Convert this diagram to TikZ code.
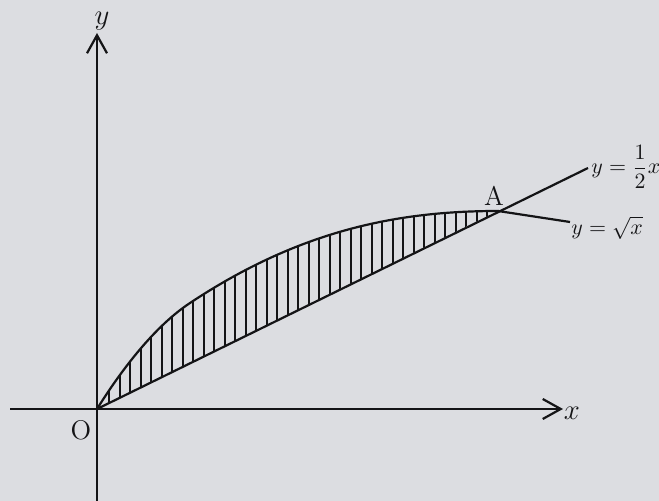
\documentclass[tikz,border=0pt]{standalone}
\usetikzlibrary{arrows.meta}
\definecolor{paper}{RGB}{220,221,225}
\definecolor{ink}{RGB}{20,20,22}
\begin{document}
\begin{tikzpicture}[x=0.5pt,y=-0.5pt,
  axis/.style={ink, line width=1.1pt, -{Straight Barb[length=9pt,width=10pt,line width=1.1pt]}},
  curve/.style={ink, line width=1.1pt},
  hatch/.style={ink, line width=1pt},
  lbl/.style={ink, font=\fontsize{11}{13}\selectfont, inner sep=0pt},
  big/.style={ink, font=\fontsize{13.5}{15}\selectfont, inner sep=0pt}]
\fill[paper] (0,0) rectangle (659,501);
\useasboundingbox (0,0) rectangle (659,501);
% key points
\coordinate (O) at (97,409);
\coordinate (M) at (190,303);
\coordinate (A) at (498,211);
\coordinate (xl) at (10,409);
\coordinate (xr) at (563,409);
\coordinate (yb) at (97,501);
\coordinate (yt) at (97,33);
\coordinate (Lend) at (588,168);
\coordinate (Send) at (570,222);
% axes
\draw[axis] (xl) -- (xr);
\draw[axis] (yb) -- (yt);
% hatching between the curve and the line
\begin{scope}
\clip (O) .. controls (122,369) and (155,326) .. (M) .. controls (300,230) and (398,211) .. (A) -- cycle;
\foreach \i in {0,...,37} \draw[hatch] ({109.3+10.5*\i},0) -- ({109.3+10.5*\i},501);
\end{scope}
% line y = x/2
\draw[curve] (O) -- (Lend);
% curve y = sqrt(x)
\draw[curve] (O) .. controls (122,369) and (155,326) .. (M) .. controls (300,230) and (398,211) .. (A);
\draw[curve] (A) -- (Send);
% labels
\node[big] (ly) at (102,21) {$y$};
\node[big] (lx) at (572,413) {$x$};
\node[big] (lO) at (81,430) {O};
\node[big] (lA) at (494,196) {A};
\node[lbl, anchor=west] (l1) at (591,167) {$\displaystyle y=\frac{1}{2}x$};
\node[lbl, anchor=west] (l2) at (571,228) {$y=\sqrt{x}$};
\end{tikzpicture}
\end{document}
